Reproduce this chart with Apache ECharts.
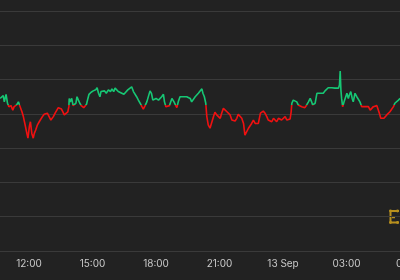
<!DOCTYPE html>
<html>
<head>
<meta charset="utf-8">
<script src="https://cdn.jsdelivr.net/npm/echarts@6/dist/echarts.min.js"></script>
<style>
html,body{margin:0;padding:0;background:#222222;}
#c{width:400px;height:280px;}
</style>
</head>
<body>
<div id="c"></div>
<script>
// Times (12 Sep 10:38 -> 13 Sep 05:32)
const times = [
"10:38","10:43","10:47","10:50","10:55","10:59","11:03","11:06","11:09","11:14",
"11:18","11:21","11:25","11:30","11:33","11:37","11:40","11:44","11:49","11:54",
"11:57","12:01","12:04","12:08","12:12","12:15","12:19","12:24","12:29","12:33",
"12:38","12:43","12:48","12:52","12:57","13:02","13:05","13:09","13:14","13:19",
"13:23","13:28","13:32","13:36","13:40","13:45","13:50","13:53","13:54","13:57",
"14:01","14:05","14:09","14:13","14:16","14:20","14:24","14:28","14:31","14:35",
"14:39","14:43","14:47","14:50","14:56","15:02","15:05","15:09","15:13","15:17",
"15:21","15:24","15:28","15:34","15:39","15:45","15:51","15:55","16:00","16:04",
"16:09","16:13","16:18","16:23","16:29","16:34","16:40","16:44","16:51","16:56",
"17:01","17:05","17:10","17:15","17:20","17:24","17:29","17:34","17:38","17:43",
"17:47","17:51","17:54","18:00","18:07","18:11","18:16","18:21","18:24","18:28",
"18:33","18:38","18:45","18:47","18:51","18:55","18:59","19:03","19:08","19:13",
"19:18","19:22","19:27","19:32","19:37","19:41","19:46","19:51","19:55","20:00",
"20:05","20:10","20:13","20:17","20:21","20:24","20:28","20:33","20:38","20:43",
"20:47","20:52","20:57","21:02","21:06","21:11","21:16","21:21","21:25","21:30",
"21:35","21:39","21:44","21:49","21:53","21:58","22:03","22:08","22:12","22:17",
"22:22","22:27","22:31","22:36","22:41","22:46","22:50","22:53","22:56","23:00",
"23:04","23:09","23:14","23:18","23:23","23:28","23:33","23:37","23:42","23:47",
"23:52","23:56","00:01","00:06","00:11","00:15","00:20","00:23","00:25","00:29",
"00:34","00:39","00:43","00:48","00:53","00:58","01:02","01:07","01:12","01:17",
"01:21","01:24","01:28","01:31","01:36","01:40","01:45","01:50","01:54","01:59",
"02:04","02:08","02:13","02:18","02:23","02:27","02:32","02:37","02:40","02:42",
"02:44","02:46","02:49","02:53","02:57","03:01","03:05","03:08","03:12","03:16",
"03:19","03:24","03:29","03:33","03:38","03:43","03:48","03:52","03:57","04:02",
"04:07","04:11","04:16","04:21","04:26","04:30","04:33","04:37","04:41","04:46",
"04:50","04:54","04:58","05:03","05:08","05:13","05:17","05:22","05:27","05:32"
];
const prices = [
44.5,44.0,45.3,43.5,45.7,43.1,42.1,41.6,42.4,41.1,
42.1,41.6,42.6,43.5,42.6,42.8,40.6,39.2,36.8,34.3,
32.9,36.3,37.7,34.3,32.9,34.3,35.3,36.8,37.7,38.2,
39.2,39.9,39.5,40.2,39.2,38.2,37.7,39.2,40.2,40.6,
41.8,42.1,41.4,40.6,39.7,39.7,40.6,42.1,44.5,43.5,
44.5,42.4,42.1,43.1,45.0,44.0,43.1,42.4,42.1,41.8,
42.1,42.8,44.5,45.7,46.3,46.7,46.3,47.0,47.6,46.0,
45.0,46.5,46.0,46.7,46.0,47.0,46.5,47.3,46.5,47.5,
47.9,46.5,47.0,46.0,45.7,46.3,47.0,47.5,47.9,46.5,
46.0,45.0,44.0,43.1,42.1,41.4,42.4,43.5,44.0,46.7,
46.0,44.0,43.5,44.5,44.0,44.5,45.0,45.7,43.5,42.1,
41.6,42.4,44.5,45.0,43.5,42.6,41.8,43.5,45.0,45.3,
45.0,45.5,45.0,45.0,44.5,43.5,44.0,45.0,45.5,46.0,
45.5,47.3,46.0,45.0,43.1,39.2,36.8,35.8,36.3,39.2,
40.5,39.7,39.2,38.7,40.2,41.6,41.1,40.6,40.6,39.7,
38.2,37.7,37.9,38.7,39.9,39.7,38.7,37.2,33.8,34.3,
35.8,36.3,37.2,38.2,37.2,37.0,37.2,36.8,40.2,40.6,
40.8,40.2,39.2,38.2,37.9,37.7,38.7,38.9,37.7,38.7,
39.2,38.2,38.7,39.2,38.2,38.7,38.5,40.6,43.1,44.0,
44.5,43.5,42.6,42.4,42.1,41.6,41.8,42.6,43.5,44.5,
43.5,42.6,42.6,43.1,46.0,46.5,46.0,46.5,46.0,46.7,
47.0,47.6,48.1,47.6,47.3,47.5,47.0,47.5,48.4,52.5,
47.0,44.5,42.1,43.5,44.0,46.0,44.5,45.5,46.5,44.5,
43.5,46.0,45.0,44.5,43.5,42.1,42.6,42.1,41.6,42.1,
41.1,41.6,42.1,41.6,42.4,42.1,40.2,38.7,38.2,38.7,
38.2,39.7,40.2,40.6,41.1,42.1,43.1,43.5,44.0,44.5
];
const baseline = 42.7;               // previous close: green above, red below
const tickHours = [12, 15, 18, 21, 24, 27, 30];
const dayLabel = "13 Sep";
const upColor = '#16c774';
const downColor = '#f01010';

// hours since 12 Sep 00:00
const hours = [];
let dayOff = 0, prev = -1;
times.forEach(t => {
  const [hh, mm] = t.split(":").map(Number);
  let h = hh + mm / 60;
  if (h + dayOff < prev) dayOff += 24;
  h += dayOff;
  hours.push(h);
  prev = h;
});
const data = hours.map((h, i) => [h, prices[i]]);

// split colour at the baseline, relative to the line's own value range
const vMax = Math.max(...prices), vMin = Math.min(...prices);
const f = (vMax - baseline) / (vMax - vMin);
const splitGradient = new echarts.graphic.LinearGradient(0, 0, 0, 1, [
  {offset: 0, color: upColor},
  {offset: f, color: upColor},
  {offset: f, color: downColor},
  {offset: 1, color: downColor}
]);

const chart = echarts.init(document.getElementById('c'), null, {renderer: 'canvas'});
chart.setOption({
  backgroundColor: '#222222',
  animation: false,
  grid: {left: 0, right: -20, top: 11, bottom: 29, outerBoundsMode: 'none', containLabel: false},
  xAxis: {
    type: 'value',
    min: 10.63,
    max: 30.47,
    axisLine: {show: false},
    axisTick: {show: false},
    splitLine: {show: false},
    axisLabel: {
      customValues: tickHours,
      color: '#c9c9c9',
      fontFamily: 'Inter',
      fontSize: 10,
      margin: 8,
      formatter: v => {
        const h = Math.round(v) % 24;
        return h === 0 ? dayLabel : String(h).padStart(2, '0') + ':00';
      }
    }
  },
  yAxis: {
    type: 'value',
    min: 0, max: 70, interval: 10,
    axisLabel: {show: false},
    axisLine: {show: false},
    axisTick: {show: false},
    splitLine: {lineStyle: {color: '#3a3a3a', width: 1}}
  },
  series: [{
    type: 'line',
    data: data,
    showSymbol: false,
    lineStyle: {width: 1.6, color: splitGradient},
    z: 3
  }],
  graphic: [
    {type: 'polyline', shape: {points: [[399, 211], [390.5, 211], [390.5, 222.5], [399, 222.5]]},
     style: {stroke: '#b8901e', lineWidth: 2, fill: null}},
    {type: 'line', shape: {x1: 392, y1: 217.5, x2: 395, y2: 217.5},
     style: {stroke: '#b8901e', lineWidth: 1.5}},
    {type: 'circle', shape: {cx: 390.5, cy: 211, r: 1.4}, style: {fill: '#b8901e'}},
    {type: 'circle', shape: {cx: 390.5, cy: 222.5, r: 1.4}, style: {fill: '#b8901e'}},
    {type: 'circle', shape: {cx: 397.5, cy: 211, r: 1.4}, style: {fill: '#b8901e'}},
    {type: 'circle', shape: {cx: 397.5, cy: 222.5, r: 1.4}, style: {fill: '#b8901e'}}
  ]
});
</script>
</body>
</html>
